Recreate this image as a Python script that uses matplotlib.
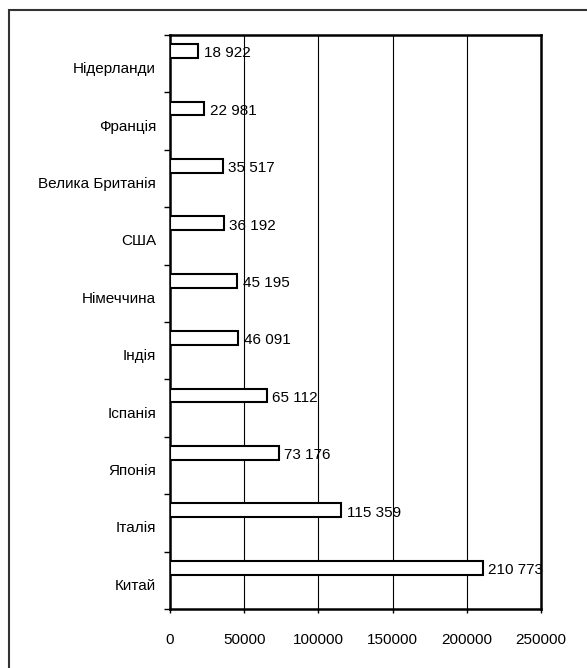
import matplotlib.pyplot as plt
from matplotlib.patches import Rectangle
from matplotlib.ticker import FixedLocator

plt.rcParams['font.family'] = ['Liberation Sans', 'DejaVu Sans']
plt.rcParams['font.size'] = 11

# Дані (знизу вгору)
countries = ['Китай', 'Італія', 'Японія', 'Іспанія', 'Індія',
             'Німеччина', 'США', 'Велика Британія', 'Франція', 'Нідерланди']
values = [210773, 115359, 73176, 65112, 46091,
          45195, 36192, 35517, 22981, 18922]
labels = ['210 773', '115 359', '73 176', '65 112', '46 091',
          '45 195', '36 192', '35 517', '22 981', '18 922']
xticks = [0, 50000, 100000, 150000, 200000, 250000]

W, H = 587, 668
fig = plt.figure(figsize=(W / 100, H / 100), dpi=100)
ax = fig.add_axes([170 / W, 1 - 609 / H, (541 - 170) / W, (609 - 35) / H])

# рамка навколо всієї діаграми
fig.patches.append(Rectangle((9 / W, -0.05), 1.2, 1 - 10 / H + 0.05,
                             transform=fig.transFigure, fill=False,
                             edgecolor='#333333', linewidth=1.5))

pos = list(range(len(countries)))
ax.barh([p + 0.22 for p in pos], values, height=0.24, color='white',
        edgecolor='black', linewidth=1.5, zorder=3)

for p, v, t in zip(pos, values, labels):
    ax.annotate(t, (v, p + 0.18), xytext=(4, 0), textcoords='offset points',
                va='center', ha='left', fontsize=11, zorder=4)

ax.set_xlim(0, 250000)
ax.set_ylim(-0.5, len(countries) - 0.5)
ax.set_xticks(xticks)
ax.set_xticklabels([str(x) for x in xticks])
ax.set_yticks([p - 0.07 for p in pos])
ax.set_yticklabels(countries)
ax.yaxis.set_minor_locator(FixedLocator([p - 0.5 for p in pos] + [len(countries) - 0.5]))
ax.tick_params(axis='y', which='major', length=0, pad=10)
ax.tick_params(axis='y', which='minor', length=4, width=1, direction='out')
ax.tick_params(axis='x', length=3, width=1, pad=14)

ax.grid(axis='x', color='black', linewidth=0.8, zorder=0)
for s in ax.spines.values():
    s.set_linewidth(1.8)

fig.savefig('out.png', dpi=100)
